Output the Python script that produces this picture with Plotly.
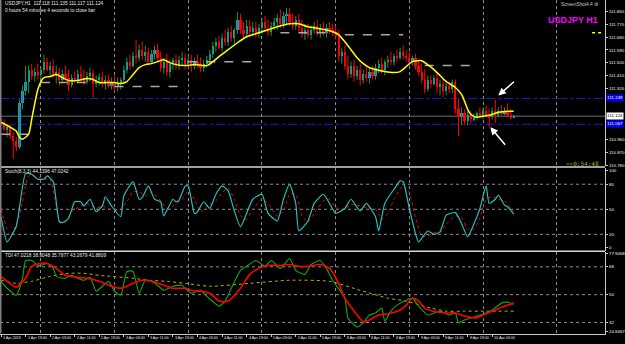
import plotly.graph_objects as go

# ---------------- data ----------------
bars = list(range(168))

open_ = [111.102, 111.074, 111.032, 111.046, 110.983, 110.948, 110.906, 111.214, 111.298, 111.368,
         111.452, 111.410, 111.438, 111.417, 111.452, 111.508, 111.452, 111.480, 111.417, 111.438,
         111.382, 111.424, 111.396, 111.347, 111.396, 111.382, 111.424, 111.396, 111.368, 111.410,
         111.431, 111.354, 111.382, 111.403, 111.354, 111.382, 111.340, 111.368, 111.326, 111.354,
         111.382, 111.452, 111.508, 111.480, 111.550, 111.536, 111.592, 111.550, 111.578, 111.508,
         111.564, 111.592, 111.536, 111.466, 111.508, 111.438, 111.494, 111.522, 111.480, 111.522,
         111.536, 111.494, 111.522, 111.480, 111.508, 111.487, 111.466, 111.494, 111.522, 111.564,
         111.620, 111.648, 111.606, 111.676, 111.648, 111.718, 111.676, 111.732, 111.802, 111.732,
         111.704, 111.760, 111.718, 111.746, 111.704, 111.746, 111.788, 111.746, 111.718, 111.760,
         111.788, 111.816, 111.774, 111.830, 111.844, 111.788, 111.760, 111.802, 111.746, 111.704,
         111.732, 111.697, 111.732, 111.760, 111.718, 111.746, 111.711, 111.746, 111.732, 111.718,
         111.690, 111.550, 111.578, 111.480, 111.424, 111.480, 111.410, 111.452, 111.382, 111.424,
         111.396, 111.438, 111.410, 111.466, 111.494, 111.452, 111.508, 111.522, 111.508, 111.550,
         111.536, 111.578, 111.550, 111.536, 111.508, 111.536, 111.480, 111.438, 111.382, 111.312,
         111.382, 111.354, 111.396, 111.326, 111.354, 111.298, 111.340, 111.312, 111.368, 111.172,
         111.116, 111.144, 111.088, 111.130, 111.102, 111.116, 111.144, 111.130, 111.158, 111.130,
         111.116, 111.158, 111.130, 111.158, 111.144, 111.158, 111.130, 111.118]

high = [111.123, 111.102, 111.060, 111.067, 111.011, 110.976, 111.242, 111.340, 111.480, 111.480,
        111.494, 111.466, 111.494, 111.466, 111.557, 111.536, 111.508, 111.522, 111.480, 111.466,
        111.452, 111.480, 111.452, 111.417, 111.438, 111.452, 111.480, 111.452, 111.438, 111.466,
        111.452, 111.410, 111.424, 111.438, 111.410, 111.417, 111.396, 111.410, 111.396, 111.396,
        111.480, 111.536, 111.557, 111.578, 111.662, 111.627, 111.648, 111.620, 111.606, 111.592,
        111.620, 111.634, 111.578, 111.536, 111.564, 111.522, 111.536, 111.557, 111.550, 111.578,
        111.564, 111.550, 111.557, 111.536, 111.557, 111.536, 111.522, 111.550, 111.592, 111.648,
        111.676, 111.690, 111.704, 111.732, 111.746, 111.760, 111.746, 111.858, 111.844, 111.788,
        111.802, 111.802, 111.788, 111.788, 111.774, 111.816, 111.830, 111.802, 111.788, 111.816,
        111.844, 111.872, 111.858, 111.886, 111.886, 111.844, 111.830, 111.844, 111.802, 111.774,
        111.774, 111.760, 111.788, 111.802, 111.774, 111.788, 111.774, 111.788, 111.774, 111.760,
        111.732, 111.606, 111.620, 111.550, 111.508, 111.522, 111.480, 111.494, 111.452, 111.466,
        111.466, 111.480, 111.494, 111.522, 111.536, 111.522, 111.550, 111.578, 111.564, 111.592,
        111.606, 111.620, 111.592, 111.578, 111.550, 111.564, 111.522, 111.494, 111.452, 111.410,
        111.410, 111.410, 111.424, 111.382, 111.396, 111.368, 111.368, 111.382, 111.382, 111.242,
        111.186, 111.172, 111.158, 111.158, 111.144, 111.158, 111.186, 111.186, 111.200, 111.172,
        111.186, 111.242, 111.186, 111.200, 111.186, 111.214, 111.172, 111.135]

low = [111.060, 111.018, 110.976, 110.962, 110.822, 110.878, 110.892, 111.172, 111.270, 111.284,
       111.382, 111.368, 111.382, 111.382, 111.424, 111.438, 111.410, 111.396, 111.354, 111.340,
       111.354, 111.382, 111.298, 111.326, 111.354, 111.354, 111.368, 111.340, 111.347, 111.368,
       111.256, 111.326, 111.340, 111.326, 111.312, 111.326, 111.312, 111.298, 111.298, 111.312,
       111.354, 111.424, 111.452, 111.466, 111.494, 111.508, 111.522, 111.508, 111.480, 111.494,
       111.522, 111.508, 111.438, 111.424, 111.410, 111.396, 111.452, 111.452, 111.452, 111.480,
       111.452, 111.466, 111.438, 111.452, 111.466, 111.438, 111.438, 111.466, 111.480, 111.536,
       111.578, 111.592, 111.578, 111.620, 111.620, 111.648, 111.634, 111.704, 111.704, 111.662,
       111.676, 111.690, 111.690, 111.676, 111.676, 111.704, 111.718, 111.690, 111.690, 111.732,
       111.732, 111.746, 111.746, 111.774, 111.760, 111.732, 111.732, 111.718, 111.676, 111.662,
       111.676, 111.662, 111.704, 111.690, 111.676, 111.690, 111.676, 111.704, 111.690, 111.662,
       111.508, 111.494, 111.452, 111.382, 111.396, 111.368, 111.382, 111.340, 111.354, 111.368,
       111.354, 111.382, 111.382, 111.424, 111.424, 111.410, 111.466, 111.480, 111.480, 111.508,
       111.522, 111.522, 111.508, 111.480, 111.480, 111.452, 111.410, 111.354, 111.284, 111.298,
       111.326, 111.340, 111.284, 111.270, 111.256, 111.270, 111.284, 111.284, 111.144, 110.983,
       111.060, 111.060, 111.060, 111.074, 111.088, 111.102, 111.116, 111.102, 111.116, 111.046,
       111.102, 111.074, 111.116, 111.130, 111.130, 111.116, 111.102, 111.117]

close = [111.074, 111.032, 111.046, 110.983, 110.948, 110.906, 111.214, 111.298, 111.368, 111.452,
         111.410, 111.438, 111.417, 111.452, 111.508, 111.452, 111.480, 111.417, 111.438, 111.382,
         111.424, 111.396, 111.347, 111.396, 111.382, 111.424, 111.396, 111.368, 111.410, 111.431,
         111.354, 111.382, 111.403, 111.354, 111.382, 111.340, 111.368, 111.326, 111.354, 111.382,
         111.452, 111.508, 111.480, 111.550, 111.536, 111.592, 111.550, 111.578, 111.508, 111.564,
         111.592, 111.536, 111.466, 111.508, 111.438, 111.494, 111.522, 111.480, 111.522, 111.536,
         111.494, 111.522, 111.480, 111.508, 111.487, 111.466, 111.494, 111.522, 111.564, 111.620,
         111.648, 111.606, 111.676, 111.648, 111.718, 111.676, 111.732, 111.802, 111.732, 111.704,
         111.760, 111.718, 111.746, 111.704, 111.746, 111.788, 111.746, 111.718, 111.760, 111.788,
         111.816, 111.774, 111.830, 111.844, 111.788, 111.760, 111.802, 111.746, 111.704, 111.732,
         111.697, 111.732, 111.760, 111.718, 111.746, 111.711, 111.746, 111.732, 111.718, 111.690,
         111.550, 111.578, 111.480, 111.424, 111.480, 111.410, 111.452, 111.382, 111.424, 111.396,
         111.438, 111.410, 111.466, 111.494, 111.452, 111.508, 111.522, 111.508, 111.550, 111.536,
         111.578, 111.550, 111.536, 111.508, 111.536, 111.480, 111.438, 111.382, 111.312, 111.382,
         111.354, 111.396, 111.326, 111.354, 111.298, 111.340, 111.312, 111.368, 111.172, 111.116,
         111.144, 111.088, 111.130, 111.102, 111.116, 111.144, 111.130, 111.158, 111.130, 111.116,
         111.158, 111.130, 111.158, 111.144, 111.158, 111.130, 111.118, 111.124]

# moving average (yellow)
ma_bar = [0, 3, 5, 6, 7, 9, 10, 11, 12, 13, 14, 16, 18, 20, 22, 25, 28, 30, 32, 35, 37, 39, 41, 43, 45,
          47, 49, 51, 53, 55, 57, 60, 63, 67, 69, 71, 74, 77, 80, 84, 87, 90, 94, 97, 100, 104, 107,
          110, 112, 114, 116, 118, 120, 122, 125, 128, 130, 132, 134, 137, 139, 141, 143, 145, 148,
          150, 151, 152, 153, 154, 155, 157, 159, 162, 165, 167]
ma_value = [111.081, 111.046, 111.018, 110.976, 110.962, 110.997, 111.102, 111.214, 111.312, 111.368,
            111.396, 111.403, 111.417, 111.396, 111.375, 111.375, 111.389, 111.382, 111.361, 111.361,
            111.361, 111.354, 111.368, 111.417, 111.466, 111.487, 111.494, 111.508, 111.522, 111.501,
            111.487, 111.480, 111.487, 111.480, 111.508, 111.543, 111.592, 111.641, 111.683, 111.711,
            111.732, 111.753, 111.774, 111.774, 111.753, 111.739, 111.725, 111.697, 111.648, 111.592,
            111.536, 111.494, 111.466, 111.452, 111.438, 111.431, 111.438, 111.473, 111.508, 111.515,
            111.487, 111.452, 111.410, 111.368, 111.326, 111.277, 111.228, 111.172, 111.137, 111.123,
            111.116, 111.123, 111.130, 111.151, 111.158, 111.158]

# daily reference levels (grey dashed)
day_line_start = [0, 13, 37, 61, 91, 112, 138]
day_line_end = [11, 30, 59, 84, 108, 131, 155]
day_line_level = [110.997, 111.361, 111.333, 111.508, 111.711, 111.697, 111.480]

blue_levels = [111.249, 111.067]
bid_price = 111.124

# Stochastic
stoch_bar = [0, 2, 5, 8, 10, 12, 14, 15, 17, 19, 20, 22, 24, 26, 27, 29, 31, 33, 34, 36, 39, 40, 43,
             45, 46, 48, 50, 52, 53, 56, 57, 58, 60, 61, 63, 64, 66, 68, 70, 72, 74, 76, 78, 80, 82,
             85, 87, 90, 92, 94, 96, 97, 100, 102, 105, 107, 109, 112, 114, 117, 119, 122, 123, 125,
             128, 130, 131, 133, 135, 136, 139, 141, 143, 145, 148, 150, 152, 154, 156, 158, 159, 161,
             162, 164, 165, 167]
stoch_main = [41, 11, 30, 93, 92, 86, 86, 90, 83, 35, 34, 39, 59, 59, 54, 62, 47, 54, 65, 54, 41, 66,
              83, 62, 64, 78, 62, 59, 42, 62, 59, 61, 78, 78, 45, 47, 59, 51, 68, 78, 72, 48, 29, 45,
              62, 68, 45, 36, 62, 80, 57, 24, 36, 57, 68, 57, 45, 51, 62, 48, 57, 41, 24, 57, 74, 84,
              83, 51, 21, 11, 24, 20, 23, 43, 46, 33, 17, 32, 51, 78, 57, 62, 67, 55, 53, 44]
sig_bar = [0, 3, 6, 9, 12, 14, 16, 18, 19, 21, 23, 26, 28, 31, 33, 35, 38, 41, 43, 45, 47, 49, 52, 54,
           56, 59, 61, 63, 65, 67, 70, 72, 74, 76, 78, 80, 82, 85, 87, 90, 92, 94, 96, 98, 100, 102,
           105, 107, 109, 112, 114, 117, 119, 122, 124, 126, 128, 131, 133, 135, 137, 139, 141, 143,
           145, 148, 150, 152, 154, 156, 158, 160, 162, 164, 167]
stoch_signal = [50, 18, 42, 90, 89, 86, 86, 54, 36, 35, 47, 54, 57, 51, 54, 51, 48, 59, 71, 71, 66,
                71, 60, 51, 54, 62, 72, 62, 47, 54, 60, 70, 75, 62, 42, 38, 50, 62, 57, 42, 48, 68,
                68, 42, 35, 45, 60, 62, 52, 50, 56, 54, 52, 50, 38, 45, 62, 78, 70, 40, 18, 18, 22,
                22, 32, 42, 40, 26, 26, 40, 62, 65, 62, 60, 47]

# TDI
tdi_green_bar = [0, 2, 5, 7, 8, 10, 12, 13, 15, 17, 18, 20, 21, 23, 25, 27, 29, 31, 33, 35, 37, 39, 41,
                 43, 45, 47, 49, 51, 53, 56, 59, 60, 62, 65, 67, 71, 73, 75, 78, 80, 83, 86, 88, 91,
                 94, 96, 99, 101, 104, 106, 108, 112, 113, 116, 118, 120, 122, 124, 125, 127, 129,
                 132, 134, 136, 139, 143, 146, 148, 149, 151, 155, 158, 160, 163, 165, 167]
tdi_green = [58.6, 54.1, 49.6, 60.6, 72.1, 72.1, 68.9, 68.9, 70.2, 67.0, 61.8, 60.6, 60.6, 62.5, 60.6,
             59.3, 61.2, 52.2, 55.4, 58.6, 52.2, 49.6, 65.0, 65.0, 50.9, 59.3, 58.6, 56.1, 52.8, 55.4,
             56.1, 54.1, 50.9, 52.8, 49.0, 42.6, 45.8, 54.1, 65.7, 68.3, 72.1, 68.3, 72.1, 67.0, 73.4,
             65.7, 63.1, 69.5, 72.1, 67.0, 59.3, 47.7, 34.9, 29.1, 31.7, 36.8, 38.1, 41.3, 32.9, 39.3,
             43.2, 46.4, 47.7, 42.6, 36.8, 39.3, 36.8, 38.1, 31.7, 33.6, 36.1, 38.1, 40.0, 44.5, 45.1,
             43.8]
tdi_red_bar = [0, 2, 5, 8, 10, 13, 15, 18, 21, 25, 28, 32, 36, 39, 43, 46, 49, 53, 56, 60, 62, 65, 68,
               71, 74, 78, 81, 84, 87, 91, 94, 97, 100, 104, 107, 110, 112, 116, 118, 120, 123, 126,
               130, 132, 134, 136, 138, 142, 145, 148, 151, 155, 157, 160, 163, 167]
tdi_red = [61.8, 58.6, 54.8, 60.6, 68.3, 70.2, 70.2, 67.0, 62.5, 61.2, 60.6, 58.6, 55.4, 54.1, 57.3,
           59.3, 58.6, 56.1, 54.1, 54.1, 52.8, 52.2, 50.9, 45.8, 45.8, 54.1, 63.1, 67.0, 68.9, 68.9,
           69.5, 68.3, 68.3, 69.5, 67.0, 57.3, 47.7, 36.8, 32.3, 33.6, 36.8, 37.5, 40.0, 43.2, 47.7,
           45.8, 41.3, 38.7, 38.1, 38.1, 36.1, 34.9, 36.8, 39.3, 41.9, 44.5]
tdi_base_bar = [0, 5, 10, 16, 22, 27, 32, 43, 48, 54, 60, 68, 81, 94, 107, 117, 126, 132, 140, 145,
                151, 158, 162, 167]
tdi_base = [59.3, 57.3, 58.6, 61.8, 63.8, 63.8, 62.5, 60.6, 59.3, 58.6, 57.3, 55.4, 57.3, 59.3, 58.6,
            52.8, 47.7, 45.8, 41.3, 39.3, 39.3, 39.3, 39.3, 39.3]

# axis labels (the labels behind the price boxes are hidden as in the terminal)
price_ticks = [110.780, 110.870, 110.960, 111.320, 111.410, 111.500,
               111.590, 111.680, 111.770, 111.860]
day_grid_bars = [13, 37, 61, 85, 109, 133, 157, 181]
time_label_bars = [0, 8, 16, 24, 32, 40, 48, 56, 64, 72, 80, 88, 96, 104, 112, 120, 128, 136, 144,
                   152, 160]
time_labels = ["1 Apr 2019", "1 Apr 19:00", "2 Apr 03:00", "2 Apr 11:00", "2 Apr 19:00",
               "3 Apr 03:00", "3 Apr 11:00", "3 Apr 19:00", "4 Apr 03:00", "4 Apr 11:00",
               "4 Apr 19:00", "5 Apr 03:00", "5 Apr 11:00", "5 Apr 19:00", "8 Apr 03:00",
               "8 Apr 11:00", "8 Apr 19:00", "9 Apr 03:00", "9 Apr 11:00", "9 Apr 19:00",
               "10 Apr 03:00"]

# ---------------- figure ----------------
W, H = 625, 344
X_END = 607 / W


def py(px):
    return 1 - px / H


FONT = "Liberation Sans, Arial, sans-serif"
fig = go.Figure()

# wicks
up_x, up_y, dn_x, dn_y = [], [], [], []
for i, o, h, l, c in zip(bars, open_, high, low, close):
    if c >= o:
        up_x += [i, i, None]
        up_y += [l, h, None]
    else:
        dn_x += [i, i, None]
        dn_y += [l, h, None]
fig.add_trace(go.Scatter(x=up_x, y=up_y, mode="lines", line=dict(color="#1f9a1f", width=1),
                         xaxis="x", yaxis="y", hoverinfo="skip", showlegend=False))
fig.add_trace(go.Scatter(x=dn_x, y=dn_y, mode="lines", line=dict(color="#ff0000", width=1),
                         xaxis="x", yaxis="y", hoverinfo="skip", showlegend=False))
body_base = [min(o, c) for o, c in zip(open_, close)]
body_len = [max(abs(c - o), 0.002) for o, c in zip(open_, close)]
body_col = ["#1e90ff" if c >= o else "#ff0000" for o, c in zip(open_, close)]
fig.add_trace(go.Bar(x=bars, y=body_len, base=body_base, width=0.72,
                     marker=dict(color=body_col, line=dict(width=0)),
                     xaxis="x", yaxis="y", showlegend=False))

# daily dashed levels
for s, e, lv in zip(day_line_start, day_line_end, day_line_level):
    fig.add_trace(go.Scatter(x=[s, e], y=[lv, lv], mode="lines",
                             line=dict(color="#a8a8a8", width=1.5, dash="dash"),
                             xaxis="x", yaxis="y", showlegend=False, hoverinfo="skip"))

# MA
fig.add_trace(go.Scatter(x=ma_bar, y=ma_value, mode="lines",
                         line=dict(color="#ffff00", width=1.5, shape="spline", smoothing=0.6),
                         xaxis="x", yaxis="y", showlegend=False))

# Stochastic
fig.add_trace(go.Scatter(x=sig_bar, y=stoch_signal, mode="lines",
                         line=dict(color="#ff0000", width=1, dash="dot", shape="spline", smoothing=0.5),
                         xaxis="x2", yaxis="y2", showlegend=False))
fig.add_trace(go.Scatter(x=stoch_bar, y=stoch_main, mode="lines",
                         line=dict(color="#22c0c0", width=1.2, shape="spline", smoothing=0.5),
                         xaxis="x2", yaxis="y2", showlegend=False))

# TDI
fig.add_trace(go.Scatter(x=tdi_base_bar, y=tdi_base, mode="lines",
                         line=dict(color="#b4b400", width=1, dash="dot", shape="spline", smoothing=0.6),
                         xaxis="x3", yaxis="y3", showlegend=False))
fig.add_trace(go.Scatter(x=tdi_green_bar, y=tdi_green, mode="lines",
                         line=dict(color="#11a011", width=1.2, shape="spline", smoothing=0.5),
                         xaxis="x3", yaxis="y3", showlegend=False))
fig.add_trace(go.Scatter(x=tdi_red_bar, y=tdi_red, mode="lines",
                         line=dict(color="#ff0000", width=1.6, shape="spline", smoothing=0.6),
                         xaxis="x3", yaxis="y3", showlegend=False))

xr = [-0.325, 196.75]
xcommon = dict(range=xr, domain=[0, X_END], tickmode="array", tickvals=day_grid_bars,
               showticklabels=False, showgrid=True, gridcolor="#8c8c8c", griddash="dot",
               gridwidth=1, zeroline=False, ticks="", fixedrange=True)
ycommon = dict(side="right", showgrid=False, zeroline=False, showline=True, linecolor="#c8c8c8",
               linewidth=1, ticks="outside", ticklen=2, tickcolor="#c8c8c8",
               tickfont=dict(size=4.4, color="#f0f0f0", family=FONT), fixedrange=True)

fig.update_layout(
    width=W, height=H, margin=dict(l=0, r=0, t=0, b=0, pad=0),
    paper_bgcolor="#000000", plot_bgcolor="#000000", showlegend=False, bargap=0,
    xaxis=dict(anchor="y", **xcommon),
    xaxis2=dict(anchor="y2", matches="x", **xcommon),
    xaxis3=dict(anchor="y3", matches="x", showline=True, linecolor="#c8c8c8", linewidth=1,
                minor=dict(ticks="outside", tickmode="array", tickvals=time_label_bars,
                           ticklen=2, tickcolor="#c8c8c8", showgrid=False),
                **xcommon),
    yaxis=dict(anchor="x", domain=[py(167), 1], range=[110.773, 111.942],
               tickmode="array", tickvals=price_ticks,
               ticktext=[f"{v:.3f}" for v in price_ticks], **ycommon),
    yaxis2=dict(anchor="x2", domain=[py(252.5), py(168.5)], range=[0, 100],
                tickmode="array", tickvals=[4, 20, 50, 80, 97],
                ticktext=["0", "20", "50", "80", "100"], **ycommon),
    yaxis3=dict(anchor="x3", domain=[py(335.5), py(253)], range=[24.8, 77.9],
                tickmode="array", tickvals=[26.2, 32, 50, 68, 76.6],
                ticktext=["24.8467", "32", "50", "68", "77.9468"], **ycommon),
)

shapes = []
# indicator level lines
for lv in [20, 50, 80]:
    shapes.append(dict(type="line", xref="paper", yref="y2", x0=0, x1=X_END, y0=lv, y1=lv,
                       line=dict(color="#8c8c8c", width=1, dash="dot"), layer="below"))
for lv in [32, 50, 68]:
    shapes.append(dict(type="line", xref="paper", yref="y3", x0=0, x1=X_END, y0=lv, y1=lv,
                       line=dict(color="#8c8c8c", width=1, dash="dot"), layer="below"))
# blue levels and bid line
for lv in blue_levels:
    shapes.append(dict(type="line", xref="paper", yref="y", x0=0, x1=X_END, y0=lv, y1=lv,
                       line=dict(color="#1c1cc8", width=1, dash="dashdot"), layer="below"))
shapes.append(dict(type="line", xref="paper", yref="y", x0=0, x1=X_END, y0=bid_price, y1=bid_price,
                   line=dict(color="#6e6e6e", width=1), layer="below"))
# panel separators and border
for ypx in [168, 252.8]:
    shapes.append(dict(type="line", xref="paper", yref="paper", x0=0, x1=X_END, y0=py(ypx), y1=py(ypx),
                       line=dict(color="#d8d8d8", width=1.5)))
shapes.append(dict(type="line", xref="paper", yref="paper", x0=0.0012, x1=0.0012, y0=py(335.5), y1=1,
                   line=dict(color="#808080", width=1.5)))
# yellow legend dashes under title
shapes.append(dict(type="line", xref="paper", yref="paper", x0=594 / W, x1=604 / W, y0=py(33), y1=py(33),
                   line=dict(color="#ffff00", width=1.5, dash="dot")))
fig.update_layout(shapes=shapes)

ann = []
small = dict(family=FONT, size=4.8, color="#e8e8e8")
ann.append(dict(xref="paper", yref="paper", x=3 / W, y=py(4), xanchor="left", yanchor="middle",
                text="USDJPY,H1  111.118 111.135 111.117 111.124", showarrow=False, font=small))
ann.append(dict(xref="paper", yref="paper", x=3 / W, y=py(10.5), xanchor="left", yanchor="middle",
                text="0 hours 54 minutes 4 seconds to close bar", showarrow=False, font=small))
ann.append(dict(xref="paper", yref="paper", x=3 / W, y=py(172.5), xanchor="left", yanchor="middle",
                text="Stoch(8,3,3) 44.1396 47.0242", showarrow=False, font=small))
ann.append(dict(xref="paper", yref="paper", x=3 / W, y=py(257), xanchor="left", yanchor="middle",
                text="TDI 47.0218 38.9048 35.7877 43.2679 41.8809", showarrow=False, font=small))
ann.append(dict(xref="paper", yref="paper", x=603 / W, y=py(4.5), xanchor="right", yanchor="middle",
                text="ScreenShot4.4 \u2699", showarrow=False,
                font=dict(family=FONT, size=4.8, color="#c8c8c8")))
ann.append(dict(xref="paper", yref="paper", x=602 / W, y=py(20.5), xanchor="right", yanchor="middle",
                text="<b>USDJPY H1</b>", showarrow=False,
                font=dict(family=FONT, size=9, color="#ff00ff")))
ann.append(dict(xref="paper", yref="paper", x=603 / W, y=py(164), xanchor="right", yanchor="middle",
                text=">>0:54:48", showarrow=False,
                font=dict(family="DejaVu Sans Mono, monospace", size=6, color="#a8a800")))
# price boxes on the axis
for lv in blue_levels:
    ann.append(dict(xref="paper", yref="y", x=X_END + 0.002, y=lv, xanchor="left", yanchor="middle",
                    text=f"{lv:.3f}", showarrow=False, bgcolor="#0000ff", borderpad=0.3,
                    font=dict(family=FONT, size=4.4, color="#ffffff")))
ann.append(dict(xref="paper", yref="y", x=X_END + 0.002, y=bid_price, xanchor="left", yanchor="middle",
                text=f"{bid_price:.3f}", showarrow=False, bgcolor="#ffffff", borderpad=0.3,
                font=dict(family=FONT, size=4.4, color="#000000")))
# arrows
ann.append(dict(xref="x", yref="y", x=162, y=111.270, ax=17, ay=-15, text="", showarrow=True,
                arrowhead=2, arrowsize=1, arrowwidth=1.5, arrowcolor="#ffffff"))
ann.append(dict(xref="x", yref="y", x=159.4, y=111.046, ax=16, ay=19, text="", showarrow=True,
                arrowhead=2, arrowsize=1, arrowwidth=1.5, arrowcolor="#ffffff"))
# time labels
for b, t in zip(time_label_bars, time_labels):
    ann.append(dict(xref="x3", yref="paper", x=b, y=py(339.5), xanchor="left", yanchor="middle",
                    text=t, showarrow=False, font=dict(family=FONT, size=3.7, color="#e8e8e8")))
fig.update_layout(annotations=ann)

fig.write_html("out.html")
